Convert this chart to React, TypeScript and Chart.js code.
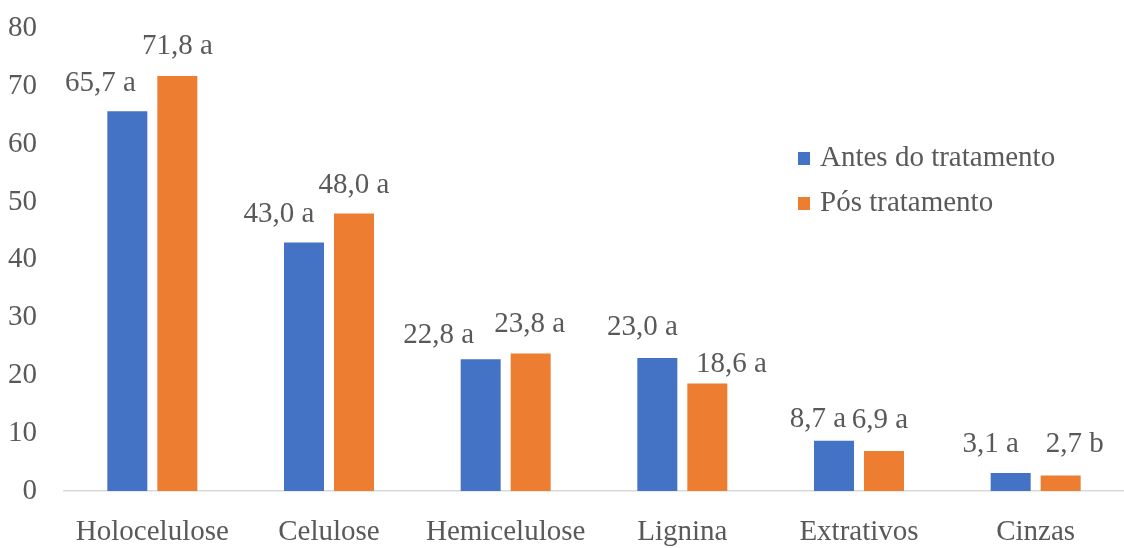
import React, { useEffect, useRef } from "react";
import { Chart, registerables } from "chart.js";

Chart.register(...registerables);

const categories = ["Holocelulose", "Celulose", "Hemicelulose", "Lignina", "Extrativos", "Cinzas"];
const antesValues = [65.7, 43.0, 22.8, 23.0, 8.7, 3.1];
const posValues = [71.8, 48.0, 23.8, 18.6, 6.9, 2.7];
const antesLetters = ["a", "a", "a", "a", "a", "a"];
const posLetters = ["a", "a", "a", "a", "a", "b"];
const seriesNames = ["Antes do tratamento", "Pós tratamento"];
const yTicks = [0, 10, 20, 30, 40, 50, 60, 70, 80];

// Hand-placed label nudges: [dx, distance above bar top]
const antesLabelNudge = [[-27, 28], [-25, 28], [-42, 24], [-15, 31], [-16, 21], [-20, 29]];
const posLabelNudge = [[0, 30], [0, 28], [-1, 29], [24, 19], [-4, 31], [14, 31]];

const BLUE = "#4472C4";
const ORANGE = "#ED7D31";
const TEXT = "#595959";
const FONT = "'Liberation Serif', 'Times New Roman', serif";
const FONT_SIZE = 29;

const fmt = (v: number) => v.toFixed(1).replace(".", ",");

const valueLabels = {
  id: "valueLabels",
  afterDatasetsDraw(chart: any) {
    const ctx = chart.ctx;
    ctx.save();
    ctx.font = `${FONT_SIZE}px ${FONT}`;
    ctx.fillStyle = TEXT;
    ctx.textAlign = "center";
    ctx.textBaseline = "middle";
    const letters = [antesLetters, posLetters];
    const nudges = [antesLabelNudge, posLabelNudge];
    chart.data.datasets.forEach((ds: any, di: number) => {
      const meta = chart.getDatasetMeta(di);
      meta.data.forEach((bar: any, i: number) => {
        const [dx, up] = nudges[di][i];
        const text = `${fmt(ds.data[i])} ${letters[di][i]}`;
        ctx.fillText(text, bar.x + dx, bar.y - up);
      });
    });
    ctx.restore();
  },
};

const insideLegend = {
  id: "insideLegend",
  afterDraw(chart: any) {
    const ctx = chart.ctx;
    ctx.save();
    ctx.font = `${FONT_SIZE}px ${FONT}`;
    ctx.textBaseline = "middle";
    ctx.textAlign = "left";
    const colors = [BLUE, ORANGE];
    seriesNames.forEach((name, i) => {
      const cy = 158.5 + i * 45;
      ctx.fillStyle = colors[i];
      ctx.fillRect(798, cy - 6.5, 12, 13);
      ctx.fillStyle = TEXT;
      ctx.fillText(name, 820, cy);
    });
    ctx.restore();
  },
};

export default function App() {
  const canvasRef = useRef<HTMLCanvasElement | null>(null);

  useEffect(() => {
    if (!canvasRef.current) return;
    const chart = new Chart(canvasRef.current, {
      type: "bar",
      data: {
        labels: categories,
        datasets: [
          { label: seriesNames[0], data: antesValues, backgroundColor: BLUE },
          { label: seriesNames[1], data: posValues, backgroundColor: ORANGE },
        ],
      },
      options: {
        animation: false,
        responsive: false,
        devicePixelRatio: 1,
        layout: { padding: { top: 28.5, left: 0, right: 0, bottom: 0 } },
        datasets: {
          bar: { categoryPercentage: 0.566, barPercentage: 0.8 },
        },
        plugins: {
          legend: { display: false },
          tooltip: { enabled: false },
        },
        scales: {
          x: {
            grid: { display: false, drawTicks: false },
            border: { display: true, color: "#D9D9D9", width: 1.5 },
            ticks: {
              color: TEXT,
              font: { family: FONT, size: FONT_SIZE },
              padding: 24,
              maxRotation: 0,
              autoSkip: false,
            },
            afterFit: (scale: any) => {
              scale.height = 57;
            },
          },
          y: {
            min: 0,
            max: 80,
            grid: { display: false, drawTicks: false },
            border: { display: false },
            afterBuildTicks: (scale: any) => {
              scale.ticks = yTicks.map((v) => ({ value: v }));
            },
            ticks: {
              color: TEXT,
              font: { family: FONT, size: FONT_SIZE },
              padding: 27,
            },
            afterFit: (scale: any) => {
              scale.width = 64;
              scale.paddingTop = 0;
              scale.paddingBottom = 0;
            },
          },
        },
      },
      plugins: [valueLabels, insideLegend],
    });
    return () => chart.destroy();
  }, []);

  return (
    <div style={{ position: "fixed", left: 0, top: 0, width: 1124, height: 548, background: "#fff", overflow: "hidden" }}>
      <canvas ref={canvasRef} width={1124} height={548} style={{ display: "block" }} />
    </div>
  );
}
